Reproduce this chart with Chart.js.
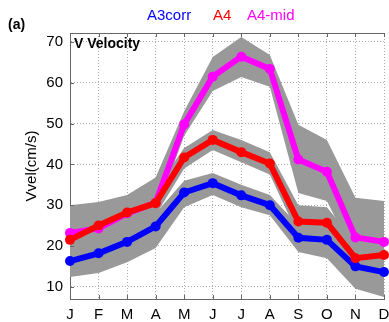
<!DOCTYPE html>
<html>
<head>
<meta charset="utf-8">
<script src="https://cdn.jsdelivr.net/npm/chart.js@4/dist/chart.umd.min.js"></script>
<style>
  html, body { margin: 0; padding: 0; background: #fff; }
  #wrap { width: 389px; height: 322px; }
</style>
</head>
<body>
<div id="wrap"><canvas id="canvas" width="389" height="322"></canvas></div>
<script>
var months = ['J', 'F', 'M', 'A', 'M', 'J', 'J', 'A', 'S', 'O', 'N', 'D'];
var yTicks = [10, 20, 30, 40, 50, 60, 70];

// monthly mean V velocity (cm/s)
var a3corr = [16.3, 18.2, 21, 24.8, 33.1, 35.4, 32.4, 30, 22, 21.5, 15, 13.6];
var a4 = [21.5, 25, 28.2, 30.5, 41.7, 46, 43, 40.2, 26, 25.7, 17, 17.8];
var a4mid = [23.2, 24.3, 28, 30.6, 49.8, 61.5, 66.4, 63.4, 41.2, 38.2, 22.1, 21];

// spread around each series (upper / lower)
var a3corrHi = [20, 21.5, 24.5, 28, 36, 37.9, 35, 32.5, 25, 24.5, 18, 17];
var a3corrLo = [12.4, 13.4, 16, 19.5, 29.5, 32.5, 29.5, 27.5, 18.5, 17, 9.5, 7.5];
var a4Hi = [25, 27.5, 31, 34, 44, 48.4, 46, 43, 30, 29.5, 21, 21];
var a4Lo = [18, 21, 25, 27.5, 39, 43.5, 40.5, 37.5, 22.5, 22, 13.5, 14];
var a4midHi = [30, 30.8, 32.5, 36.8, 53, 66.3, 71.2, 66.8, 49.7, 46, 31.8, 31];
var a4midLo = [19, 20, 24, 28, 47, 58, 61.4, 59, 33, 31, 17, 16];

var BAND = '#999999';

function band(hi, lo, idx) {
  return [
    { data: hi, fill: { target: idx + 1 }, backgroundColor: BAND, borderColor: 'rgba(0,0,0,0)', borderWidth: 0, pointRadius: 0, order: 5 },
    { data: lo, fill: false, borderColor: 'rgba(0,0,0,0)', borderWidth: 0, pointRadius: 0, order: 5 }
  ];
}

function line(data, color) {
  return {
    data: data, borderColor: color, backgroundColor: color, borderWidth: 6,
    pointRadius: 5, pointBorderWidth: 0, pointBackgroundColor: color,
    tension: 0, fill: false, order: 1
  };
}

var datasets = [];
datasets = datasets.concat(band(a4midHi, a4midLo, 0));
datasets = datasets.concat(band(a4Hi, a4Lo, 2));
datasets = datasets.concat(band(a3corrHi, a3corrLo, 4));
datasets.push(line(a4, '#ff0000'));
datasets.push(line(a4mid, '#ff00ff'));
datasets.push(line(a3corr, '#0000ff'));

var decor = {
  id: 'decor',
  afterDraw: function (chart) {
    var c = chart.ctx, a = chart.chartArea;
    var xs = chart.scales.x, ys = chart.scales.y;
    c.save();
    // top edge of the box + small inward ticks
    c.strokeStyle = '#666';
    c.lineWidth = 1;
    c.setLineDash([]);
    c.beginPath();
    c.moveTo(a.left, a.top + 0.5);
    c.lineTo(a.right, a.top + 0.5);
    for (var i = 0; i < months.length; i++) {
      var x = Math.round(xs.getPixelForValue(i)) + 0.5;
      c.moveTo(x, a.top);
      c.lineTo(x, a.top + 4);
      c.moveTo(x, a.bottom);
      c.lineTo(x, a.bottom - 4);
    }
    yTicks.forEach(function (v) {
      var y = Math.round(ys.getPixelForValue(v)) + 0.5;
      c.moveTo(a.left, y);
      c.lineTo(a.left + 4, y);
    });
    c.stroke();

    c.fillStyle = '#000';
    c.font = 'bold 14px "Liberation Sans", Arial, sans-serif';
    c.textBaseline = 'alphabetic';
    c.fillText('(a)', 8, 29);
    c.fillText('V Velocity', 74, 48);

    c.font = '15px "Liberation Sans", Arial, sans-serif';
    c.fillStyle = '#0000ff';
    c.fillText('A3corr', 147, 20);
    c.fillStyle = '#ff0000';
    c.fillText('A4', 213, 20);
    c.fillStyle = '#ff00ff';
    c.fillText('A4-mid', 247, 20);
    c.restore();
  }
};

var ctx = document.getElementById('canvas');
var chart = new Chart(ctx, {
  type: 'line',
  data: { labels: months, datasets: datasets },
  options: {
    responsive: false,
    animation: false,
    layout: { padding: { top: 33, right: 4, left: 0, bottom: 0 } },
    plugins: { legend: { display: false }, tooltip: { enabled: false } },
    scales: {
      x: {
        type: 'category',
        offset: false,
        grid: { color: '#aaaaaa', drawTicks: false, lineWidth: 1 },
        border: { display: true, color: '#666', width: 1, dash: [1, 2] },
        ticks: {
          color: '#000', padding: 7, autoSkip: false, maxRotation: 0,
          font: { family: '"Liberation Sans", Arial, sans-serif', size: 15 }
        },
        afterFit: function (s) { s.height = 23; s.paddingRight = 0; s.paddingLeft = 0; }
      },
      y: {
        min: 7, max: 72.2,
        afterBuildTicks: function (s) { s.ticks = yTicks.map(function (v) { return { value: v }; }); },
        grid: { color: '#aaaaaa', drawTicks: false, lineWidth: 1 },
        border: { display: true, color: '#666', width: 1, dash: [1, 2] },
        ticks: {
          color: '#000', padding: 7,
          font: { family: '"Liberation Sans", Arial, sans-serif', size: 15 }
        },
        title: {
          display: true, text: 'Vvel(cm/s)', color: '#000',
          font: { family: '"Liberation Sans", Arial, sans-serif', size: 15 },
          padding: { top: 23, bottom: 0 }
        },
        afterFit: function (s) { s.width = 70; }
      }
    }
  },
  plugins: [decor]
});
</script>
</body>
</html>
